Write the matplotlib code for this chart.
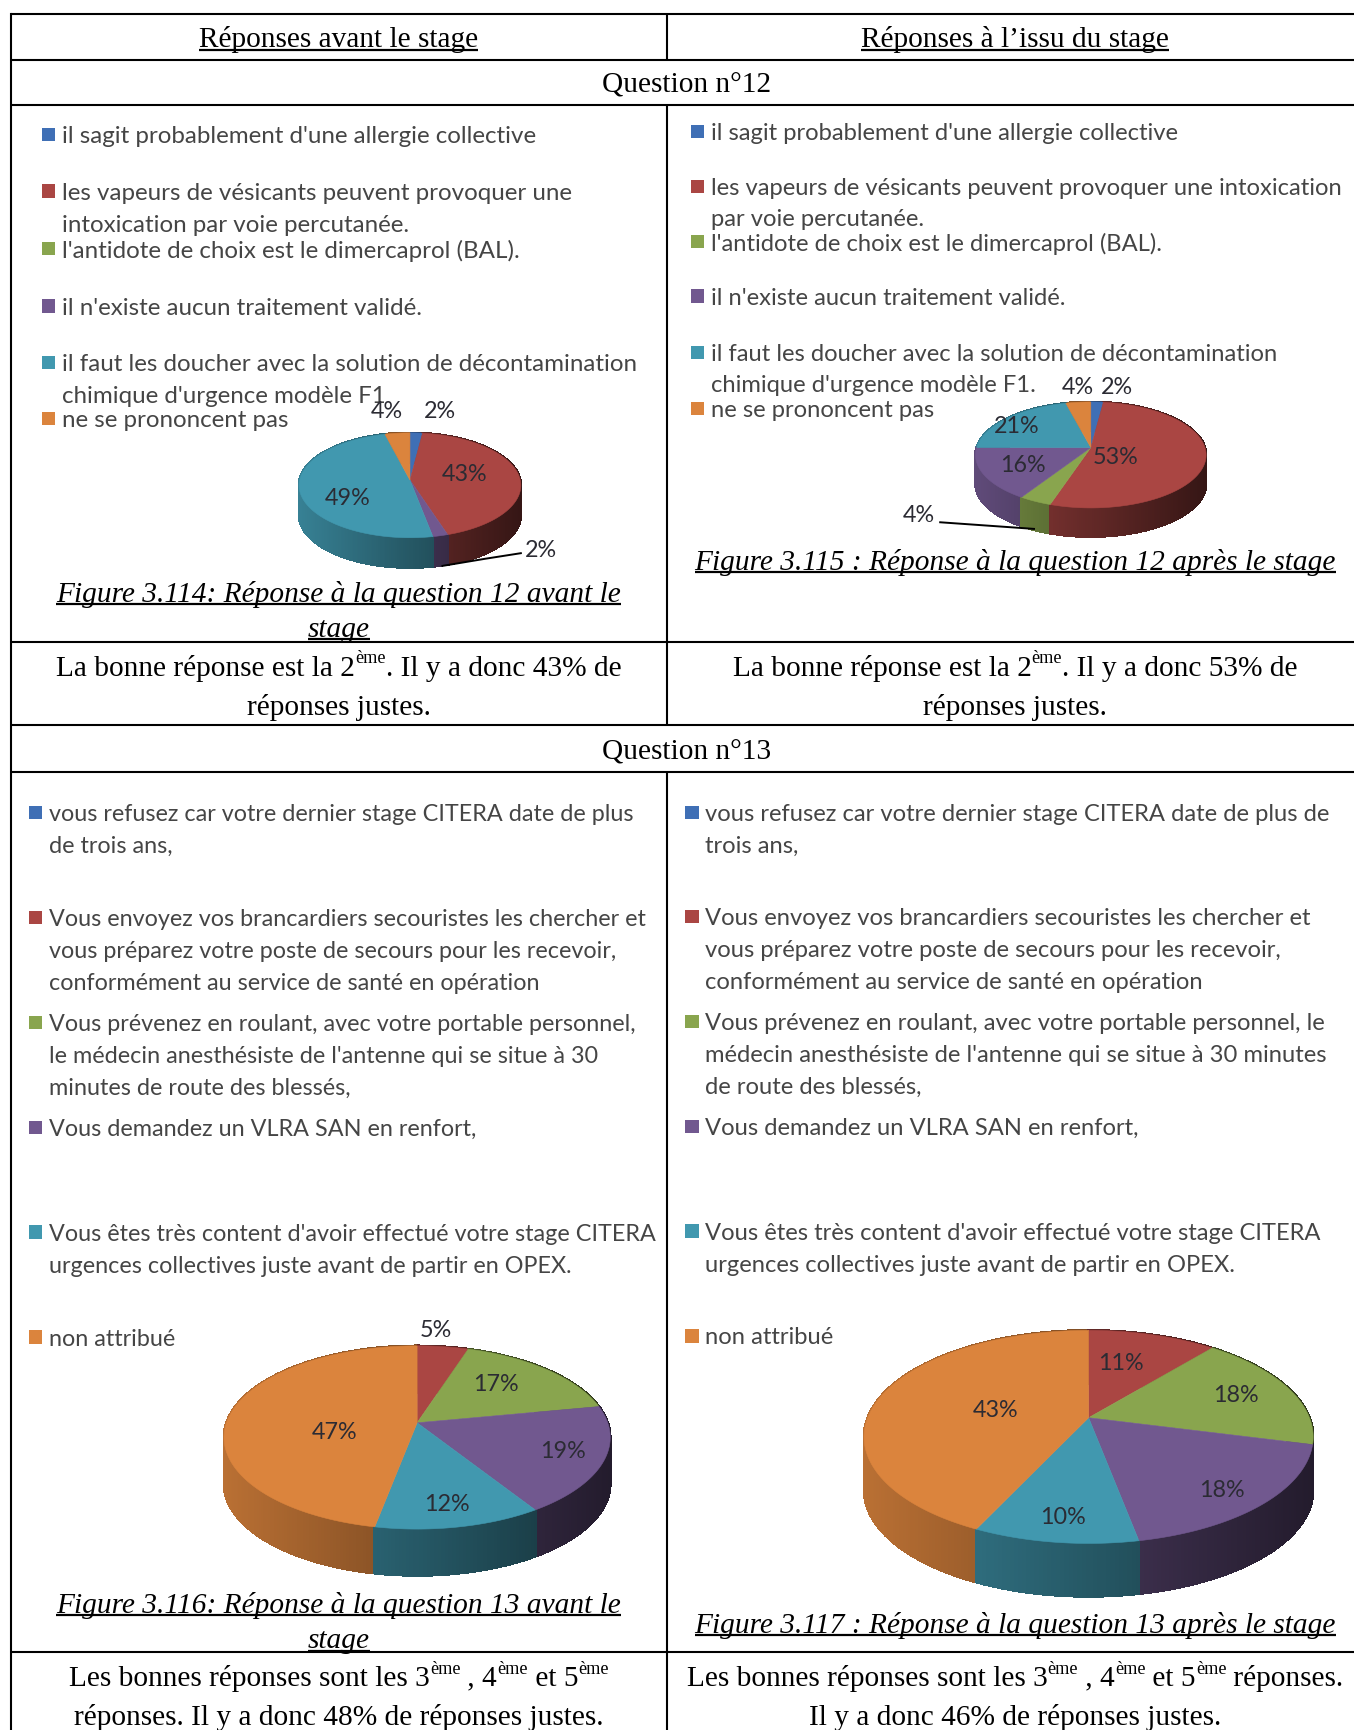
import numpy as np
import matplotlib
matplotlib.use("Agg")
import matplotlib.pyplot as plt
from matplotlib.collections import PolyCollection

# ---------- data ----------
colors = ["#3F6FB5", "#AA4643", "#89A54E", "#71588F", "#4198AF", "#DB843D"]

q12_before = [2, 43, 0, 2, 49, 4]
q12_after = [2, 53, 4, 16, 21, 4]
q13_before = [0, 5, 17, 19, 12, 47]
q13_after = [0, 11, 18, 18, 10, 43]

legend_a = [(0, 123, ["il sagit probablement d'une allergie collective"]),
            (1, 174, ["les vapeurs de vésicants peuvent provoquer une", "intoxication par voie percutanée."]),
            (2, 226, ["l'antidote de choix est le dimercaprol (BAL)."]),
            (3, 278, ["il n'existe aucun traitement validé."]),
            (4, 329, ["il faut les doucher avec la solution de décontamination", "chimique d'urgence modèle F1"]),
            (5, 380, ["ne se prononcent pas"])]
legend_b = [(0, 120, ["il sagit probablement d'une allergie collective"]),
            (1, 170, ["les vapeurs de vésicants peuvent provoquer une intoxication", "par voie percutanée."]),
            (2, 220, ["l'antidote de choix est le dimercaprol (BAL)."]),
            (3, 269, ["il n'existe aucun traitement validé."]),
            (4, 320, ["il faut les doucher avec la solution de décontamination", "chimique d'urgence modèle F1."]),
            (5, 371, ["ne se prononcent pas"])]
legend_c = [(0, 737, ["vous refusez car votre dernier stage CITERA date de plus", "de trois ans,"]),
            (1, 832, ["Vous envoyez vos brancardiers secouristes les chercher et", "vous préparez votre poste de secours pour les recevoir,", "conformément au service de santé en opération"]),
            (2, 927, ["Vous prévenez en roulant, avec votre portable personnel,", "le médecin anesthésiste de l'antenne qui se situe à 30", "minutes de route des blessés,"]),
            (3, 1022, ["Vous demandez un VLRA SAN en renfort,"]),
            (4, 1117, ["Vous êtes très content d'avoir effectué votre stage CITERA", "urgences collectives juste avant de partir en OPEX."]),
            (5, 1212, ["non attribué"])]
legend_d = [(0, 737, ["vous refusez car votre dernier stage CITERA date de plus de", "trois ans,"]),
            (1, 831, ["Vous envoyez vos brancardiers secouristes les chercher et", "vous préparez votre poste de secours pour les recevoir,", "conformément au service de santé en opération"]),
            (2, 926, ["Vous prévenez en roulant, avec votre portable personnel, le", "médecin anesthésiste de l'antenne qui se situe à 30 minutes", "de route des blessés,"]),
            (3, 1021, ["Vous demandez un VLRA SAN en renfort,"]),
            (4, 1116, ["Vous êtes très content d'avoir effectué votre stage CITERA", "urgences collectives juste avant de partir en OPEX."]),
            (5, 1211, ["non attribué"])]

labels_a = [("4%", 351, 373), ("2%", 399, 373), ("43%", 421, 430), ("49%", 315, 452), ("2%", 490, 499)]
labels_b = [("4%", 977, 351), ("2%", 1012, 351), ("21%", 921, 386), ("53%", 1011, 414), ("16%", 927, 422), ("4%", 833, 467)]
labels_c = [("5%", 395, 1205), ("17%", 449, 1254), ("19%", 510, 1315), ("12%", 405, 1363), ("47%", 303, 1298)]
labels_d = [("11%", 1016, 1235), ("18%", 1120, 1264), ("18%", 1107, 1350), ("10%", 963, 1375), ("43%", 902, 1278)]

# ---------- canvas (coordinates of the 1227x1568 view) ----------
W, H = 1227, 1568
fig = plt.figure(figsize=(13.54, 17.31), dpi=100, facecolor="white")
ax = fig.add_axes([0, 0, 1, 1])
ax.set_xlim(0, W)
ax.set_ylim(H, 0)
ax.axis("off")
renderer = fig.canvas.get_renderer()
PX = 1354 / 1227

SERIF = "Liberation Serif"
SANS = "Lato"
BODY = 21.15
LEGCOL = "#454545"


def measure(s, size, style="normal"):
    a = ax.text(0, 0, s + "|", fontsize=size, family=SERIF, style=style)
    b = ax.text(0, 0, "|", fontsize=size, family=SERIF, style=style)
    w = a.get_window_extent(renderer).width - b.get_window_extent(renderer).width
    a.remove()
    b.remove()
    return w / PX


def rich(cx, cy, parts, style="normal", underline=False, size=BODY):
    widths = [measure(p, size * (0.62 if sup else 1), style) for p, sup in parts]
    x = cx - sum(widths) / 2
    x0 = x
    base = cy + 8
    for (p, sup), w in zip(parts, widths):
        ax.text(x, base - (11 if sup else 0), p, fontsize=size * (0.62 if sup else 1),
                family=SERIF, style=style, va="baseline", ha="left", color="black")
        x += w
    if underline:
        ax.plot([x0, x], [base + 3, base + 3], color="black", lw=1.6, solid_capstyle="butt")


def legend(entries, mx, tx, size, step=29):
    for idx, y, lines in entries:
        ax.fill_between([mx, mx + 12], y - 6, y + 6, color=colors[idx], lw=0)
        for j, line in enumerate(lines):
            ax.text(tx, y + 1 + j * step, line, fontsize=size, family=SANS, color=LEGCOL,
                    va="center", ha="left")


def pie3d(values, box, depth, k):
    left, right, top, bottom = box
    vals = np.asarray(values, float)
    fr = np.cumsum(np.r_[0, vals]) / vals.sum()

    def proj(t):
        x, y = np.sin(t), np.cos(t)
        return x / (1 + k * y), y / (1 + k * y)

    gx, gy = proj(np.linspace(0, 2 * np.pi, 1441))
    sx = (right - left) / (gx.max() - gx.min())
    sy = (bottom - top) / (gy.max() - gy.min())
    ox = (left + right) / 2 - sx * (gx.max() + gx.min()) / 2
    oy = top + sy * gy.max()

    def screen(t):
        x, y = proj(t)
        return ox + sx * x, oy - sy * y

    quads, cols, keys = [], [], []
    tops = []
    rgb = [np.array(matplotlib.colors.to_rgb(c)) for c in colors]
    for i in range(len(vals)):
        if vals[i] <= 0:
            continue
        t = np.linspace(fr[i], fr[i + 1], max(3, int(vals[i] * 4))) * 2 * np.pi
        px, py = screen(t)
        tops.append((np.r_[ox, px], np.r_[oy, py], colors[i]))
        for a in range(len(t) - 1):
            quads.append([(px[a], py[a]), (px[a + 1], py[a + 1]),
                          (px[a + 1], py[a + 1] + depth), (px[a], py[a] + depth)])
            nx = ((px[a] + px[a + 1]) / 2 - (left + right) / 2) / ((right - left) / 2)
            cols.append(rgb[i] * np.clip(0.58 - 0.27 * nx, 0, 1))
            keys.append((py[a] + py[a + 1]) / 2)
    order = np.argsort(keys)
    pc = PolyCollection([quads[o] for o in order], facecolors=[cols[o] for o in order],
                        edgecolors=[cols[o] for o in order], linewidths=1.2,
                        antialiaseds=False, zorder=3)
    ax.add_collection(pc)
    for xs, ys, c in tops:
        ax.fill(xs, ys, color=c, lw=0.4, zorder=4)


def pie_labels(items):
    for s, x, y in items:
        ax.text(x, y, s, fontsize=16.8, family=SANS, color="#2b2b33", ha="center", va="center", zorder=6)


# ---------- table rules ----------
for y in [14, 55, 96, 582, 658, 700, 1497]:
    ax.plot([10, W], [y, y], color="black", lw=1.5, solid_capstyle="butt", zorder=8)
ax.plot([10, 10], [14, H], color="black", lw=1.5, zorder=8)
for a, b in [(14, 55), (96, 658), (700, H)]:
    ax.plot([604, 604], [a, b], color="black", lw=1.5, solid_capstyle="butt", zorder=8)

# ---------- text rows ----------
rich(307, 35, [("Réponses avant le stage", False)], underline=True)
rich(920, 35, [("Réponses à l’issu du stage", False)], underline=True)
rich(622, 76, [("Question n°12", False)])
rich(622, 680, [("Question n°13", False)])

for cx, y, s in [(307, 537, "Figure 3.114: Réponse à la question 12 avant le"),
                 (307, 569, "stage"),
                 (920, 508, "Figure 3.115 : Réponse à la question 12 après le stage"),
                 (307, 1453, "Figure 3.116: Réponse à la question 13 avant le"),
                 (307, 1485, "stage"),
                 (920, 1471, "Figure 3.117 : Réponse à la question 13 après le stage")]:
    rich(cx, y, [(s, False)], style="italic", underline=True)

rich(307, 604, [("La bonne réponse est la 2", False), ("ème", True), (". Il y a donc 43% de", False)])
rich(307, 640, [("réponses justes.", False)])
rich(920, 604, [("La bonne réponse est la 2", False), ("ème", True), (". Il y a donc 53% de", False)])
rich(920, 640, [("réponses justes.", False)])
rich(307, 1519, [("Les bonnes réponses sont les 3", False), ("ème", True), (" , 4", False), ("ème", True), (" et 5", False), ("ème", True)])
rich(307, 1555, [("réponses. Il y a donc 48% de réponses justes.", False)])
rich(920, 1519, [("Les bonnes réponses sont les 3", False), ("ème", True), (" , 4", False), ("ème", True), (" et 5", False), ("ème", True), (" réponses.", False)])
rich(920, 1555, [("Il y a donc 46% de réponses justes.", False)])

# ---------- legends ----------
legend(legend_a, 38, 56, 17.4)
legend(legend_b, 626, 644, 17.1, step=28)
legend(legend_c, 26, 44, 16.8)
legend(legend_d, 621, 639, 17.1)

# ---------- pies ----------
pie3d(q12_before, (271, 472, 393, 488), 27, 0.10)
pie3d(q12_after, (884, 1093, 365, 461), 26, 0.14)
pie3d(q13_before, (203, 553, 1220, 1386), 42, 0.16)
pie3d(q13_after, (783, 1190, 1206, 1399), 48, 0.18)
pie_labels(labels_a)
pie_labels(labels_b)
pie_labels(labels_c)
pie_labels(labels_d)

ax.plot([401, 440, 472], [513.5, 507, 502], color="black", lw=1.4, zorder=6)
ax.plot([852, 937], [474, 480], color="black", lw=1.4, zorder=6)

fig.savefig("out.png", dpi=100, facecolor="white")
